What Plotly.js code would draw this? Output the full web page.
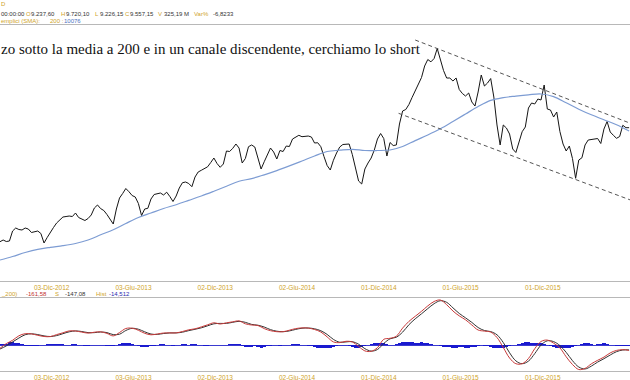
<!DOCTYPE html>
<html><head><meta charset="utf-8">
<script src="https://cdn.plot.ly/plotly-3.0.1.min.js"></script>
<style>html,body{margin:0;padding:0;background:#fff}#chart{width:630px;height:380px}</style>
</head><body><div id="chart"></div>
<script>
// Weekly closes (first week: 2012-08-10)
const startWeek = '2012-08-10';
const price = [6946,6994,6952,6966,7247,7331,7289,7275,7331,7303,
7205,7219,7247,7177,6910,7064,7219,7345,7472,7556,
7640,7654,7668,7654,7753,7626,7584,7542,7598,7697,
7893,7978,7876,7823,7711,7584,7444,7865,8174,8301,
8441,8351,8244,8202,8020,7682,7865,7885,8146,8273,
8287,8315,8259,8337,8216,8076,8230,8455,8604,8624,
8582,8492,8764,8905,8953,8998,9051,9172,9298,9144,
9037,9130,9495,9481,9571,9692,9579,9158,9284,9616,
9664,9607,9312,8989,9194,9411,9579,9467,9270,9509,
9481,9635,9621,9832,9874,9936,9897,9916,9916,9888,
9720,9728,9616,9340,9087,8961,9234,9439,9607,9678,
9692,9692,9397,9045,8652,8568,8989,9158,9298,9523,
9832,9987,9846,9354,9734,9649,9664,10254,10619,10661,
10802,10998,11181,11392,11560,11883,12066,12001,12094,12375,
12024,11757,11546,11546,11462,11546,11223,11111,11040,11125,
10872,10759,11153,11631,11321,11406,11532,11012,10226,9664,
10226,10141,9973,9551,9453,9748,10037,10169,10703,10844,
10816,10956,10928,11350,10675,10647,10450,10591,10043,9692,
9495,9635,9284,8728,9242,9304,9664,9804,9818,9838,
9846,9706,10113,10324,10029,9936,9852,9902,10217,10150,10150];
// SMA 200, one value every 4 weeks
const sma200 = [6432,6530,6643,6733,6789,6834,6896,6994,7140,7283,
7458,7626,7753,7879,7986,8107,8230,8365,8506,8646,
8719,8826,8944,9076,9214,9354,9481,9517,9543,9509,
9509,9523,9621,9787,9945,10119,10324,10535,10745,10917,
10995,11038,11074,11097,11024,10849,10670,10512,10374,10234,10057];
// MACD line and signal, one value every 2 weeks
const macd = [-99,42,141,276,339,333,291,255,252,312,
366,423,420,387,357,384,396,348,273,375,
495,504,441,351,306,330,360,363,363,405,
456,486,543,606,666,630,666,696,723,636,
600,585,492,429,399,399,444,492,513,507,
465,390,243,93,72,111,90,-42,-177,-189,
-81,171,201,264,507,708,861,1011,1173,1305,
1350,1209,1020,873,756,600,450,417,387,225,
-75,-390,-561,-561,-405,-111,105,147,54,-87,
-354,-585,-735,-702,-564,-459,-363,-237,-162,-140,-160];
const signal = [-120,-28,92,208,308,336,312,273,254,282,
339,395,422,404,372,371,390,372,311,324,
435,500,473,396,329,318,345,362,363,384,
431,471,515,575,636,648,648,681,710,680,
618,593,539,461,414,399,422,468,503,510,
486,428,317,168,83,92,101,24,-110,-183,
-135,45,186,233,386,608,785,936,1092,1239,
1328,1280,1115,947,815,678,525,434,402,306,
75,-233,-476,-561,-483,-258,-3,126,101,-17,
-221,-470,-660,-719,-633,-512,-411,-300,-200,-150,-147];
// Histogram, weekly
const hist = [30,30,30,90,90,75,60,30,-15,-30,-30,-30,-15,0,15,30,30,30,45,45,30,15,
15,30,30,15,0,-15,-15,0,15,15,15,0,-15,-30,-30,0,45,75,75,60,30,
0,-30,-60,-60,-45,-30,-15,15,30,30,15,15,-15,0,15,30,30,15,30,30,
15,0,-15,-15,15,15,15,0,0,15,30,45,45,30,-30,-60,-60,-45,-15,
-45,-75,-60,-30,-15,0,0,-15,0,15,15,45,45,30,15,0,-15,-30,
-60,-75,-90,-90,-90,-75,-45,-15,0,15,0,-30,-60,-75,-75,-60,-30,
0,30,60,75,75,60,30,15,0,30,60,90,90,90,90,75,75,90,75,60,45,
15,0,-15,-45,-60,-60,-75,-75,-60,-60,-75,-75,-60,-45,-15,0,-15,-30,
-60,-90,-90,-90,-75,-45,-15,0,15,45,75,90,90,75,60,60,60,45,15,
-15,-45,-75,-90,-90,-90,-75,-60,-30,0,30,60,60,30,15,30,45,60,45,
15,0,-15,-30,-30,-15,-15];
// Descending channel endpoints
const chanUpperX = ['2015-02-20','2016-06-13'], chanUpperY = [12614,10273];
const chanLowerX = ['2015-01-14','2016-06-13'], chanLowerY = [10554,8118];
const tickDates = ['2012-12-03','2013-06-03','2013-12-02','2014-06-02','2014-12-01','2015-06-01','2015-12-01','2016-06-01'];
const tickLabels = ['03-Dic-2012','03-Giu-2013','02-Dic-2013','02-Giu-2014','01-Dic-2014','01-Giu-2015','01-Dic-2015','01-Giu-2016'];

// weekly date axis
const weeks = [];
const t0 = Date.parse(startWeek + 'T00:00:00Z');
for (let k = 0; k < price.length; k++) weeks.push(new Date(t0 + k*7*86400000).toISOString().slice(0,10));
const weeks4 = weeks.filter((d,i)=> i%4===0);
const weeks2 = weeks.filter((d,i)=> i%2===0);

const GOLD = '#cfa42a', SANS = 'Liberation Sans, Arial, sans-serif';
const traces = [
  {x: weeks, y: price, type:'scatter', mode:'lines', line:{color:'#151515', width:1}, xaxis:'x', yaxis:'y'},
  {x: weeks4, y: sma200, type:'scatter', mode:'lines', line:{color:'#7d9cd3', width:1.2, shape:'spline'}, xaxis:'x', yaxis:'y'},
  {x: chanUpperX, y: chanUpperY, type:'scatter', mode:'lines', line:{color:'#555', width:1, dash:'4px,3px'}, xaxis:'x', yaxis:'y'},
  {x: chanLowerX, y: chanLowerY, type:'scatter', mode:'lines', line:{color:'#555', width:1, dash:'4px,3px'}, xaxis:'x', yaxis:'y'},
  {x: weeks, y: hist, type:'bar', marker:{color:'#1a1ad0', line:{width:0}}, xaxis:'x2', yaxis:'y2'},
  {x: weeks2, y: signal, type:'scatter', mode:'lines', line:{color:'#333', width:1, shape:'spline'}, xaxis:'x2', yaxis:'y2'},
  {x: weeks2, y: macd, type:'scatter', mode:'lines', line:{color:'#c83a3a', width:1, shape:'spline'}, xaxis:'x2', yaxis:'y2'}
];

const TOP = 25, BOT = 371, H = BOT - TOP;
const py = y => (BOT - y) / H, px = x => x / 630;
function ann(x, y, text, color, size, family) {
  return {xref:'paper', yref:'paper', x: px(x), y: py(y), xanchor:'left', yanchor:'middle', showarrow:false,
          text, font:{color, size: size||6, family: family||SANS}};
}
const DARK = '#333';
const annotations = [
  ann(-1, 3.5, 'D', GOLD),
  ann(-1, 13.5, '00:00:00', DARK), ann(24, 13.5, 'O', GOLD), ann(29, 13.5, '9.237,60', DARK),
  ann(59, 13.5, 'H', GOLD), ann(64, 13.5, '9.720,10', DARK), ann(93, 13.5, 'L', GOLD), ann(98, 13.5, '9.226,15', DARK),
  ann(123, 13.5, 'C', GOLD), ann(128, 13.5, '9.557,15', DARK), ann(156, 13.5, 'V', GOLD), ann(162, 13.5, '325,19 M', DARK),
  ann(192, 13.5, 'Var%', GOLD), ann(211, 13.5, '-6,8233', DARK),
  ann(-1, 21, 'emplici (SMA):', GOLD), ann(48, 21, '200 :', GOLD), ann(62, 21, '10076', '#4a70c0'),
  ann(-1, 294, '_200)', GOLD), ann(24, 294, '-161,58', '#c03030'), ann(53, 294, 'S', GOLD), ann(63, 294, '-147,08', DARK),
  ann(94, 294, 'Hist', GOLD), ann(107, 294, '-14,512', '#2a2ab0'),
  ann(-1, 49, 'zo sotto la media a 200 e in un canale discendente, cerchiamo lo short', '#111', 15, 'Liberation Serif, Times New Roman, serif')
];

const xcommon = {type:'date', range:['2012-08-10','2016-06-12'], tickmode:'array', tickvals: tickDates, ticktext: tickLabels,
  showgrid:false, zeroline:false, showline:true, mirror:true, linecolor:'#b8b8b8', linewidth:1, ticks:'',
  tickfont:{color:GOLD, size:6.5, family:SANS}};
const layout = {
  width:630, height:380, margin:{l:0, r:0, t:TOP, b:380-BOT}, paper_bgcolor:'#fff', plot_bgcolor:'#fff',
  showlegend:false, bargap:0,
  xaxis: Object.assign({}, xcommon, {anchor:'y'}),
  xaxis2: Object.assign({}, xcommon, {anchor:'y2', matches:'x'}),
  yaxis: {domain:[(BOT-281)/H, 1], range:[5842, 13036], showgrid:false, zeroline:false, showticklabels:false, ticks:''},
  yaxis2: {domain:[0, (BOT-298)/H], range:[-780, 1410], showgrid:false, zeroline:true, zerolinecolor:'#3b3bd0', zerolinewidth:1, showticklabels:false, ticks:''},
  annotations
};
Plotly.newPlot('chart', traces, layout, {staticPlot:true, displayModeBar:false});
</script></body></html>
